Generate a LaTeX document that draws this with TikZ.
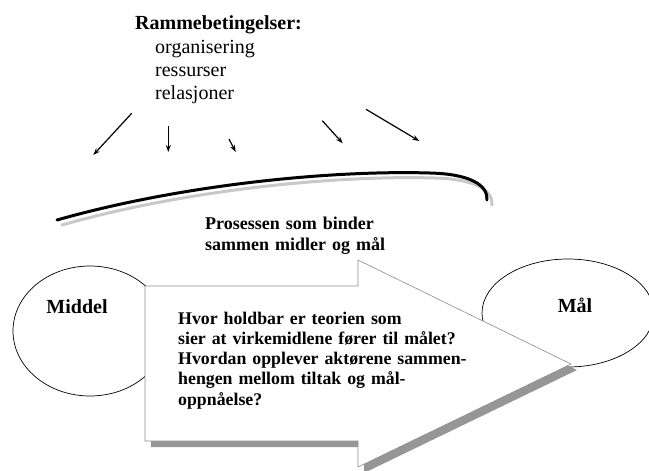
\documentclass[tikz,border=0pt]{standalone}
\usepackage{fontspec}
\setmainfont{Liberation Serif}
\usetikzlibrary{positioning, arrows.meta}

\definecolor{rimgray}{RGB}{140,140,140}
\definecolor{dropgray}{RGB}{150,150,150}
\definecolor{lightgray}{RGB}{200,200,200}

\begin{document}
\begin{tikzpicture}[x=1pt, y=-1pt,
    txt/.style={anchor=base west, inner sep=0pt},
    head/.style={txt, font=\fontsize{20}{23}\selectfont\bfseries},
    item/.style={txt, font=\fontsize{20}{23}\selectfont},
    boldtxt/.style={txt, font=\fontsize{18}{21.5}\selectfont\bfseries, text width=330pt, align=left},
    pointer/.style={->, >={Stealth[length=7pt, width=5pt]}, line width=1.2pt},
    blob/.style={draw, line width=0.7pt}]
  \useasboundingbox (0,0) rectangle (649,471);

  % frame conditions
  \node[head] (ramme) at (135,30) {Rammebetingelser:};
  \node[item] (org) at (155,53) {organisering};
  \node[item] (res) at (155,76) {ressurser};
  \node[item] (rel) at (155,99) {relasjoner};

  \coordinate (s1) at (131.7,113.3); \coordinate (e1) at (93.3,155);
  \coordinate (s2) at (168.3,126);   \coordinate (e2) at (168.3,152);
  \coordinate (s3) at (229,139);     \coordinate (e3) at (235.7,152);
  \coordinate (s4) at (322.3,120.7); \coordinate (e4) at (342.7,143.3);
  \coordinate (s5) at (366,109.3);   \coordinate (e5) at (419.3,141);
  \path[pointer]
    (s1) edge (e1)
    (s2) edge (e2)
    (s3) edge (e3)
    (s4) edge (e4)
    (s5) edge (e5);

  % bow
  \draw[lightgray, line width=3pt, line cap=round, shift={(5,5)}]
    (57,220) .. controls (180,185) and (330,170) .. (430,173)
             .. controls (470,174) and (488,185) .. (487,200);
  \draw[black, line width=3pt, line cap=round]
    (57,220) .. controls (180,185) and (330,170) .. (430,173)
             .. controls (470,174) and (488,185) .. (487,200);

  \node[boldtxt] (prosess) at (205,229) {Prosessen som binder\\sammen midler og mål};

  % means and goal
  \draw[blob] (90,331) ellipse [x radius=77, y radius=65];
  \node[head, anchor=center] (middel) at (77,307) {Middel};
  \draw[blob] (568,313) ellipse [x radius=86, y radius=54];
  \node[head, anchor=center] (maal) at (575,305) {Mål};

  % big arrow
  \fill[dropgray, shift={(6,6)}]
    (145,286) -- (358,286) -- (358,260) -- (571,364) -- (358,467) -- (358,441) -- (145,441) -- cycle;
  \filldraw[fill=white, draw=rimgray, line width=0.6pt]
    (145,286) -- (358,286) -- (358,260) -- (571,364) -- (358,467) -- (358,441) -- (145,441) -- cycle;

  \node[boldtxt, font=\fontsize{17.8}{20.3}\selectfont\bfseries] (spm) at (178,324)
    {Hvor holdbar er teorien som\\sier at virkemidlene fører til målet?\\Hvordan opplever aktørene sammen-\\hengen mellom tiltak og mål-\\oppnåelse?};
\end{tikzpicture}
\end{document}
